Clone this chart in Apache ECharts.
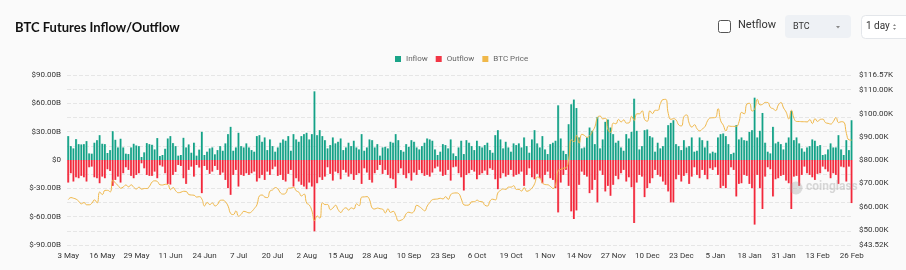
<!DOCTYPE html>
<html>
<head>
    <meta charset="UTF-8">
    <title>BTC Futures Inflow/Outflow</title>
    <script src="https://cdn.jsdelivr.net/npm/echarts@6/dist/echarts.min.js"></script>
</head>
<body style="margin: 0; padding: 0; background: #fafafa;">
    <div id="container" style="width: 906px; height: 270px;"></div>
    <script>
        // daily values, 3 May -> 26 Feb (300 days), billions USD
        var inflow = [
            25.3, 14.7, 12.3, 22.1, 16.8, 16.5, 16.8, 20, 7, 6.7,
            18.3, 21, 26.3, 17.2, 16.8, 7.4, 10.5, 30.5, 21.4, 13.3,
            22.5, 13.3, 6.7, 6.3, 13.3, 17.2, 15.4, 14.7, 3.2, 8.1,
            17.9, 16.8, 16.1, 11.2, 23.2, 4.2, 5.3, 11.9, 22.8, 25.3,
            17.9, 14.7, 4.6, 5.3, 23.5, 13.3, 16.5, 7.7, 18.3, 4.6,
            11,
            29.8, 5.3, 8.8, 12.3, 13.3, 6, 10.5, 14.7, 9.8, 17.6, 27.4, 35.1, 9.8, 13.3, 28.8, 14.7, 13.3, 17.6, 13.3,
            10.5, 8.8, 25.3, 26.3, 19.3, 23.9, 10.5, 21.8, 14.7, 8.8, 13.3, 18.3, 21.8, 20.4, 25.3, 9.8, 27.4, 21.8, 19.3,
            25.3, 27.4, 28.8, 21.8, 27.4,
            72.7,
            26.3, 31.6, 25.3, 21, 12.3, 15.8, 23.9, 17.6, 19.3, 22.8, 10.5, 13.3, 18.3, 14.7, 20.4, 13.3, 11.2, 27.4, 9.8,
            13.3, 21.8, 21, 13.3, 16.8, 4.6, 13.3, 14, 12.3, 19.3, 18.3, 27.4, 21,
            10.5, 8.8, 16.8, 14, 21, 19.3, 13.3, 11.2,
            14.7, 18.3, 22.8, 21.8, 20.4, 11.2, 5.3, 8.8, 16.8, 15.8, 12.3, 21.8, 7, 4.2, 13.3, 20.4, 6.3, 21, 18.3, 14.7,
            10.5, 20.4, 14.7, 13.3, 15.8, 18.3, 10.5, 7.7, 26.3, 31.6, 21.8, 12.3, 19.3, 13.3, 8.8,
            17.6, 15.8, 17.6, 13.3, 23.9, 14.7, 7.7, 21.8, 31.6, 17.6, 13.3, 25.3, 11.2, 6.3, 16.8, 18.3, 20.4, 57.9, 22.8,
            9.8, 6.3, 37.9, 59, 64, 55, 23.9,
            12.3, 13.3, 23.9, 34.4, 30.9, 16.8, 45.6, 12.3, 21.8, 40.4,
            42.8, 34.4, 27.4, 18.3, 20.4, 13.3, 9.8, 27.4, 22.8, 29.8,
            64.9, 30.9, 11.2, 14.7, 31.6, 32.3, 25.3, 23.9, 8.8, 18.3,
            12.3, 14.7, 23.9, 36.9, 39.3, 42.1, 16.8, 14.7, 10.5, 21,
            13.3, 14.7, 23.9, 8.8, 9.8, 23.9, 21, 13.3, 20.4, 7,
            8.8, 7.7, 23.9, 27.4, 28.1, 25.3, 16.8, 6.3, 7.7, 36.9,
            21.8, 23.9, 21, 20.4, 29.8, 31.6, 66, 23.9, 30.9, 49.8,
            18.3, 8.8, 7, 35.1, 17.6, 19.3, 16.8, 11.2, 18.3, 23.9,
            52,
            21, 23.9, 17.6, 12.3, 8.8, 13.3, 14.7, 21.8, 20.4, 14.7, 15.8, 5.3, 6, 11.2, 17.6, 13.3, 13.3, 26.3, 11.2, 5.3,
            21, 10.5, 42.1
        ];
        var outflow = [
            -23.9, -14, -22.8, -18.3, -19.3, -16.8, -18.3, -22.8, -7.7, -7,
            -18.3, -19.3, -24.6, -17.6, -19.3, -9.8, -11.6, -27.4, -21.1, -17.6,
            -23.9, -14, -7.7, -10.5, -16.8, -19.3, -15.8, -14, -3.5, -8.8,
            -15.8, -16.8, -16.8, -12.3, -19.3, -5.6, -7, -14, -25.3, -26,
            -15.8, -12.6, -5.3, -6.3, -19.3, -25.3, -10.5, -7, -17.6, -5.3,
            -8,
            -35.1, -6.3, -10.5, -14.7, -12.3, -6.3, -10.5, -15.8, -13.3, -21.1, -29.8, -36.9, -15.8, -10.5, -28.1, -15.8,
            -16.8, -14, -15.8, -14, -12.3, -22.8, -19.3, -15.8, -21.1, -12.3, -15.8, -9.8, -7, -16.8, -15.8, -21.1, -22.8,
            -14.7, -10.5, -28.1, -19.3, -22.8, -26.3, -28.1, -30.9, -23.9, -28.1,
            -75.5,
            -24.6, -18.3, -21.1, -17.6, -7.7, -14.7, -21.8, -12.3, -14, -20.4, -10.5, -13.3, -17.6, -14.7, -21.1, -15.8,
            -14, -25.3, -8.8, -13.3, -21.1, -23.9, -14, -10.5, -5.3, -14.7, -10.5, -15.8, -19.3, -20.4, -29.8, -14,
            -8.8, -15.8, -19.3, -14, -21.8, -13.3, -15.8, -10.5,
            -14, -16.8, -15.8, -17.6, -13.3, -8.8, -7, -12.3, -16.8, -15.8, -10.5, -21.8, -7.7, -7, -14, -18.3, -32.3,
            -15.8, -14, -10.5,
            -12.3, -20.4, -15.8, -14, -11.2, -15.8, -8.8, -10.5, -20.4, -30.9, -19.3, -14, -17.6, -15.8, -10.5,
            -17.6, -15.8, -14.7, -12.3, -27.4, -15.8, -8.8, -18.3, -20.4, -14.7, -19.3, -24.6, -15.8, -12.3, -19.3,
            -21.1, -29.8, -55.5, -23.9, -15.8, -10.5, -27.4, -54.4, -62.5, -53.4, -26.3,
            -12.3, -15.8, -17.6, -35.1, -31.6, -21.1, -44.9, -11.2, -15.8, -33.3,
            -27.4, -37.9, -26.3, -16.8, -20.4, -14, -10.5, -22.8, -18.3, -28.8,
            -66.7, -23.9, -15.8, -17.6, -39.3, -29.8, -24.6, -19.3, -10.5, -15.8,
            -17.6, -22.8, -26.3, -33.3, -44.9, -44.9, -20.4, -15.8, -22.8, -16.8,
            -14, -25.3, -17.6, -7.7, -15.8, -19.3, -10.5, -15.8, -20.4, -8.8,
            -10.5, -7.7, -15.8, -29.8, -27.4, -29.8, -15.8, -7.7, -10.5, -38.6,
            -25.3, -24.6, -15.8, -16.8, -25.3, -29.8, -68.4, -15.8, -29.8, -51.9,
            -17.6, -7.7, -9.8, -38.6, -20.4, -19.3, -16.8, -15.8, -21.8, -24.6,
            -51.9,
            -17.6, -16.8, -27.4, -15.8, -7, -14, -15.8, -18.3, -21.1, -14.7, -14, -7, -9.8, -12.3, -19.3, -14, -15.8,
            -25.3, -7, -7.7, -22.8, -7, -45.6
        ];
        // BTC price, thousands USD
        var price = [
            // May
            63.0, 63.9, 63.6, 63.2, 62.3, 61.2, 61.8, 60.8, 60.8, 61.5, 62.9, 61.6, 66.3, 65.2, 67.0, 67.0, 66.3,
            71.4, 70.1, 69.1, 67.9, 68.5, 69.3, 68.5, 69.4, 68.3, 67.6, 68.4, 67.5,
            // Jun
            67.8, 67.8, 68.8, 70.6, 71.1, 70.8, 69.4, 69.3, 69.6, 69.5, 67.3, 68.2, 66.8, 66.0, 66.2, 66.6, 66.5,
            65.2, 65.0, 64.9, 64.1, 64.3, 63.2, 60.3, 61.8, 60.9, 61.6, 60.3, 61.0, 62.7,
            // Jul
            62.8, 62.0, 60.2, 57.0, 56.6, 58.2, 55.9, 56.7, 58.0, 57.7, 57.3, 57.9, 59.2, 60.8, 64.7, 65.0, 64.1,
            63.9, 66.7, 67.2, 68.2, 67.6, 65.9, 65.4, 65.8, 67.9, 68.0, 68.3, 66.8, 66.2, 64.6,
            // Aug
            65.4, 61.5, 60.7, 58.1, 54.0, 56.0, 55.0, 61.7, 60.9, 60.9, 58.7, 59.4, 60.6, 58.7, 57.5, 58.9, 59.5,
            58.5, 59.5, 59.0, 61.2, 60.4, 64.1, 64.2, 64.3, 62.9, 59.4, 59.0, 59.4, 59.1, 58.9,
            // Sep
            57.3, 59.1, 57.5, 58.0, 56.2, 53.9, 54.2, 54.9, 57.0, 57.6, 57.3, 58.1, 60.6, 60.0, 59.1, 58.2, 60.3,
            61.8, 63.0, 63.2, 63.3, 63.6, 63.3, 64.3, 63.1, 65.2, 65.8, 65.9, 65.6, 63.3,
            // Oct
            60.8, 60.6, 60.8, 62.1, 62.1, 62.8, 62.2, 62.1, 60.6, 60.3, 62.5, 63.2, 62.9, 66.0, 67.0, 67.6, 67.4,
            68.4, 68.4, 69.0, 67.4, 67.4, 66.7, 68.2, 66.6, 67.0, 68.0, 69.9, 72.7, 72.3, 70.2,
            // Nov
            69.5, 69.4, 68.7, 67.8, 69.4, 75.6, 76.0, 76.5, 76.7, 80.5, 88.7, 87.9, 90.6, 87.3, 91.1, 90.6, 89.8,
            90.5, 92.3, 94.3, 98.4, 98.9, 97.7, 98.0, 93.0, 91.9, 95.9, 95.6, 97.5, 96.4,
            // Dec
            97.3, 95.9, 96.0, 98.8, 97.0, 99.9, 99.9, 101.2, 97.4, 96.7, 101.2, 100.0, 101.4, 101.4, 104.3, 106.0,
            106.1, 100.0, 97.5, 97.8, 97.2, 95.1, 94.7, 98.7, 99.4, 95.8, 94.2, 95.2, 93.4, 92.6, 93.4,
            // Jan
            94.4, 96.9, 98.1, 98.2, 98.3, 102.1, 96.9, 95.0, 92.5, 94.7, 94.5, 94.5, 94.5, 96.5, 100.5, 99.9, 104.1,
            104.4, 101.1, 102.0, 106.1, 103.7, 104.0, 104.8, 104.7, 102.6, 102.1, 101.3, 103.7, 104.7, 102.4,
            // Feb
            100.6, 97.7, 101.4, 97.9, 96.6, 96.6, 96.5, 96.5, 96.4, 97.4, 95.7, 97.8, 96.6, 97.5, 97.6, 96.1, 95.8,
            95.5, 96.6, 98.3, 96.1, 96.5, 96.3, 91.4, 88.7, 88.6
        ];
        var monthNames = ['Jan', 'Feb', 'Mar', 'Apr', 'May', 'Jun', 'Jul', 'Aug', 'Sep', 'Oct', 'Nov', 'Dec'];
        var priceTicks = [43.52, 50, 60, 70, 80, 90, 100, 110, 116.57];

        var days = [];
        var d = new Date(2024, 4, 3);
        for (var i = 0; i < price.length; i++) {
            days.push(d.getDate() + ' ' + monthNames[d.getMonth()]);
            d.setDate(d.getDate() + 1);
        }

        function hGrad(c1, c2) {
            return new echarts.graphic.LinearGradient(0, 0, 1, 0, [
                { offset: 0, color: c1 }, { offset: 0.55, color: c1 }, { offset: 1, color: c2 }
            ]);
        }

        var chart = echarts.init(document.getElementById('container'), null, { renderer: 'canvas' });
        var labelFont = { fontSize: 8, color: '#333', fontFamily: 'Roboto' };

        var option = {
            animation: false,
            backgroundColor: '#fafafa',
            title: {
                text: 'BTC Futures Inflow/Outflow',
                left: 10, top: 16,
                textStyle: { fontSize: 13, fontWeight: 'bold', color: '#111', fontFamily: 'Lato' }
            },
            legend: {
                left: 390, top: 50,
                itemWidth: 6, itemHeight: 6, itemGap: 8,
                icon: 'rect',
                textStyle: { fontSize: 8, color: '#666', fontFamily: 'Roboto' },
                data: [
                    { name: 'Inflow', itemStyle: { color: '#1aa488' } },
                    { name: 'Outflow', itemStyle: { color: '#f23645' } },
                    { name: 'BTC Price', itemStyle: { color: '#f0b84a' } }
                ]
            },
            grid: { left: 67, right: 53, top: 75, bottom: 25 },
            xAxis: {
                type: 'category',
                data: days,
                axisLine: { show: false },
                axisTick: { show: false },
                axisLabel: Object.assign({ interval: 12, margin: 7 }, labelFont)
            },
            yAxis: [{
                type: 'value',
                min: -90, max: 90, interval: 15,
                axisLine: { show: false },
                axisTick: { show: false },
                splitLine: { lineStyle: { type: 'dashed', color: '#e6e6e6' } },
                axisLabel: Object.assign({
                    margin: 6,
                    formatter: function (v) {
                        if (v % 30 !== 0) return '';
                        return v === 0 ? '$0' : '$' + v.toFixed(2) + 'B';
                    }
                }, labelFont)
            }, {
                type: 'value',
                min: 43.52, max: 116.57,
                axisLine: { show: false },
                axisTick: { show: false },
                splitLine: { show: false },
                axisLabel: Object.assign({
                    margin: 6,
                    customValues: priceTicks,
                    formatter: function (v) { return '$' + v.toFixed(2) + 'K'; }
                }, labelFont)
            }],
            series: [{
                name: 'Inflow',
                type: 'bar',
                stack: 'flow',
                barCategoryGap: '20%',
                data: inflow,
                itemStyle: { color: hGrad('#14a187', '#86d3c2') }
            }, {
                name: 'Outflow',
                type: 'bar',
                stack: 'flow',
                barCategoryGap: '20%',
                data: outflow,
                itemStyle: { color: hGrad('#f2283b', '#f9939c') }
            }, {
                name: 'BTC Price',
                type: 'line',
                yAxisIndex: 1,
                data: price,
                smooth: true,
                showSymbol: false,
                lineStyle: { width: 1, color: '#f0b84a' },
                z: 5
            }],
            graphic: [
                // watermark
                { type: 'circle', shape: { cx: 796, cy: 188, r: 6.5 }, style: { fill: 'rgba(160,160,160,0.35)' }, z: 10 },
                {
                    type: 'text', left: 806, top: 181, z: 10,
                    style: { text: 'coinglass', fontSize: 12, fontWeight: 'bold', fontFamily: 'Roboto', fill: 'rgba(170,170,170,0.45)' }
                },
                // netflow checkbox
                { type: 'rect', shape: { x: 718.5, y: 20.5, width: 12, height: 12, r: 2 }, style: { fill: '#fff', stroke: '#555', lineWidth: 1 } },
                { type: 'text', left: 738, top: 20, style: { text: 'Netflow', fontSize: 11, fontFamily: 'Roboto', fill: '#333' } },
                // coin dropdown
                { type: 'rect', shape: { x: 785, y: 15, width: 66, height: 23, r: 4 }, style: { fill: '#eef1f5' } },
                { type: 'text', left: 793, top: 22, style: { text: 'BTC', fontSize: 9, fontFamily: 'Roboto', fill: '#333' } },
                { type: 'polygon', shape: { points: [[836, 26], [840, 26], [838, 28.5]] }, style: { fill: '#888' } },
                // interval dropdown
                { type: 'rect', shape: { x: 861.5, y: 15.5, width: 50, height: 23, r: 4 }, style: { fill: '#fff', stroke: '#e3e6ea' } },
                { type: 'text', left: 866, top: 21, style: { text: '1 day', fontSize: 10, fontFamily: 'Roboto', fill: '#333' } },
                { type: 'polygon', shape: { points: [[893, 26], [896, 26], [894.5, 24]] }, style: { fill: '#888' } },
                { type: 'polygon', shape: { points: [[893, 28], [896, 28], [894.5, 30]] }, style: { fill: '#888' } }
            ]
        };
        chart.setOption(option);
    </script>
</body>
</html>
